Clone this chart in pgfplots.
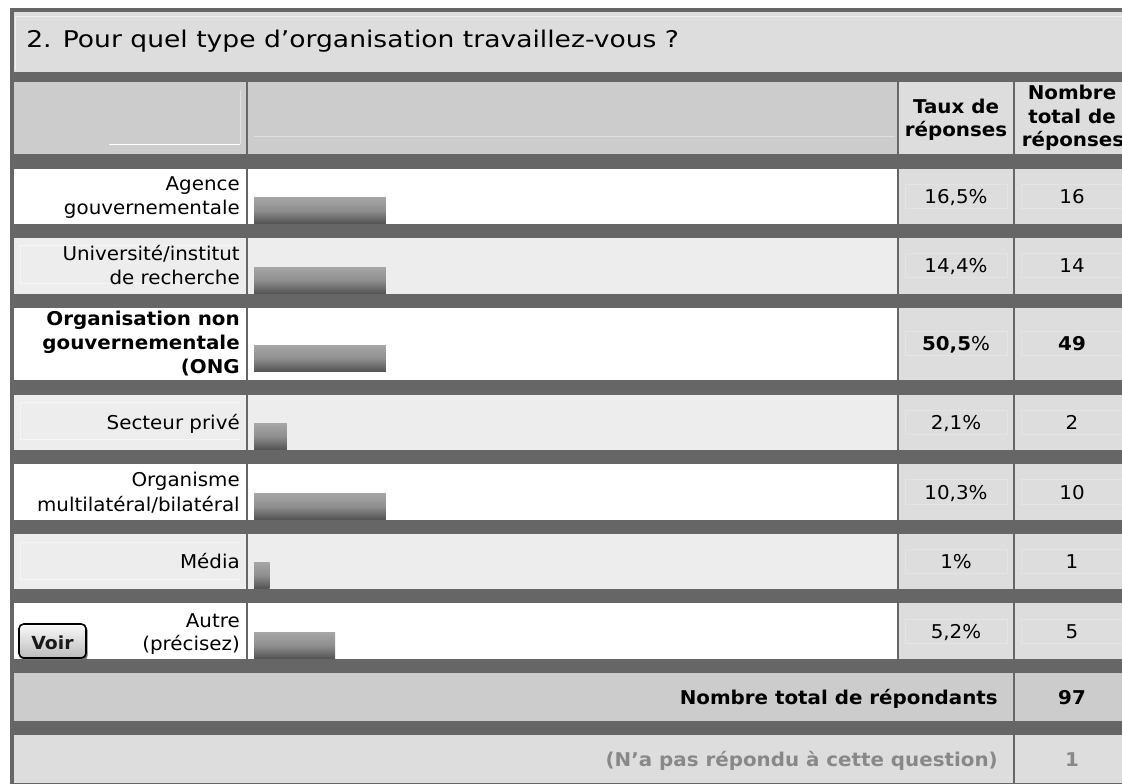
\documentclass[border=0pt]{standalone}
\usepackage{fontspec}
\setmainfont{DejaVu Sans}[FakeStretch=1.045]
\newfontfamily\titlefont{DejaVu Sans}[FakeStretch=1.155]
\usepackage{pgfplots}
\pgfplotsset{compat=1.18}
\definecolor{dk}{HTML}{666666}
\definecolor{hd}{HTML}{CCCCCC}
\definecolor{cl}{HTML}{DDDDDD}
\definecolor{ev}{HTML}{EDEDED}
\definecolor{barT}{HTML}{A6A6A6}
\definecolor{barM}{HTML}{8E8E8E}
\definecolor{barB}{HTML}{525252}
\definecolor{gr}{HTML}{888888}
\definecolor{faint}{HTML}{E4E4E4}

\begin{document}
\begin{tikzpicture}[x=0.75pt,y=-0.75pt,
  every node/.style={inner sep=0pt, font=\fontsize{14.25}{18}\selectfont}]
\useasboundingbox (0,0) rectangle (1122,784);
% canvas and frame
\fill[white] (0,0) rectangle (1122,784);
\fill[dk] (10,8) rectangle (1122,784);
% title band
\fill[cl] (14,12) rectangle (1122,72);
\draw[white!60!cl, line width=0.75pt] (15.5,70) -- (15.5,16.5) -- (1122,16.5);
% header row
\fill[hd] (14,82) rectangle (246,154);
\fill[hd] (248,82) rectangle (897,154);
\fill[cl] (899,82) rectangle (1013,154);
\fill[cl] (1015,82) rectangle (1122,154);
\draw[white, line width=1.4pt] (109,144.5) -- (240,144.5);
\draw[white!40!hd, line width=0.75pt] (240.5,90) -- (240.5,144);
\draw[white!40!hd, line width=0.75pt] (254,136.5) -- (895,136.5);
% data rows
\foreach \t/\b/\c in {169/224/white, 238/294/ev, 308/380/white, 395/450/ev, 464/520/white, 534/589/ev, 603/659/white}{
  \fill[\c] (14,\t) rectangle (246,\b);
  \fill[\c] (248,\t) rectangle (897,\b);
  \fill[cl] (899,\t) rectangle (1013,\b);
  \fill[cl] (1015,\t) rectangle (1122,\b);
  \draw[faint, line width=0.75pt] (905,{(\t+\b)/2-12}) rectangle (1007,{(\t+\b)/2+12});
  \draw[faint, line width=0.75pt] (1122,{(\t+\b)/2-12}) -- (1021,{(\t+\b)/2-12}) -- (1021,{(\t+\b)/2+12}) -- (1122,{(\t+\b)/2+12});
}
\foreach \t/\b in {238/294, 395/450, 534/589}{
  \draw[white!45!ev, line width=0.75pt] (20,{\b-10}) -- (20,{\t+8}) -- (240,{\t+8});
  \draw[white!45!ev, line width=0.75pt] (20,{\b-10}) -- (240,{\b-10});
}
% totals rows
\fill[hd] (14,673) rectangle (1013,721);
\fill[hd] (1015,673) rectangle (1122,721);
\fill[cl] (14,735) rectangle (1013,783);
\fill[cl] (1015,735) rectangle (1122,783);

% bars: x in % (bar drawn from 0 %, at pixel 254; 15.6 px per %), y = bar centre in px from top
\begin{axis}[at={(0,784)}, anchor=south west, scale only axis,
  width=841.5pt, height=588pt,
  xmin=-16.282, xmax=55.641, ymin=0, ymax=784, y dir=reverse,
  hide axis, clip=false,
  restrict x to domain*=0:8.46,
  mybar/.style={xbar, bar shift=0pt, bar width=19.9pt, draw=none,
    top color=barT, bottom color=barB, middle color=barM}]
\addplot[mybar] coordinates {(16.5,210.5)};  % Agence gouvernementale
\addplot[mybar] coordinates {(14.4,280.5)};  % Universite/institut de recherche
\addplot[mybar] coordinates {(50.5,358.5)};  % ONG
\addplot[mybar] coordinates {(2.1,436.5)};   % Secteur prive
\addplot[mybar] coordinates {(10.3,506.5)};  % Organisme multilateral/bilateral
\addplot[mybar] coordinates {(1.0,575.5)};   % Media
\addplot[mybar] coordinates {(5.2,645.5)};   % Autre
\end{axis}

% title
\node[anchor=base west, font=\titlefont\fontsize{17.25}{20}\selectfont] at (26,48)
  {2. Pour quel type d’organisation travaillez-vous ?};
% header
\node[anchor=base, font=\bfseries\fontsize{14.25}{18}\selectfont] at (956,114) {Taux de};
\node[anchor=base, font=\bfseries\fontsize{14.25}{18}\selectfont] at (956,137) {réponses};
\node[anchor=base, font=\bfseries\fontsize{14.25}{18}\selectfont] at (1072,100) {Nombre};
\node[anchor=base, font=\bfseries\fontsize{14.25}{18}\selectfont] at (1072,124) {total de};
\node[anchor=base, font=\bfseries\fontsize{14.25}{18}\selectfont] at (1073,147) {réponses};
% labels
\node[anchor=base east] at (240,191) {Agence};
\node[anchor=base east] at (240,215) {gouvernementale};
\node[anchor=base east] at (240,261) {Université/institut};
\node[anchor=base east] at (240,285) {de recherche};
\node[anchor=base east, font=\bfseries\fontsize{14.25}{18}\selectfont] at (240,326) {Organisation non};
\node[anchor=base east, font=\bfseries\fontsize{14.25}{18}\selectfont] at (240,350) {gouvernementale};
\node[anchor=base east, font=\bfseries\fontsize{14.25}{18}\selectfont] at (240,374) {(ONG};
\node[anchor=base east] at (240,429.5) {Secteur privé};
\node[anchor=base east] at (240,487) {Organisme};
\node[anchor=base east] at (240,511) {multilatéral/bilatéral};
\node[anchor=base east] at (240,568.5) {Média};
\node[anchor=base east] at (240,627) {Autre};
\node[anchor=base east] at (240,650) {(précisez)};
% Voir button
\fill[black!55, rounded corners=3pt] (20.5,626) rectangle (87.5,660);
\draw[black, line width=1.2pt, rounded corners=3.5pt, top color=white!90!hd, bottom color=hd!92!black] (19,624) rectangle (86,658);
\node[anchor=base, font=\bfseries\fontsize{13.5}{16}\selectfont, text=black!90] at (52.5,649) {Voir};
% values
\foreach \y/\p/\n in {203.5/16{,}5\%/16, 273/14{,}4\%/14, 429.5/2{,}1\%/2, 499/10{,}3\%/10, 568.5/1\%/1, 638/5{,}2\%/5}{
  \node[anchor=base] at (956,\y) {\p};
  \node[anchor=base] at (1072,\y) {\n};
}
\node[anchor=base] at (956,351) {\textbf{50,5}\%};
\node[anchor=base, font=\bfseries\fontsize{14.25}{18}\selectfont] at (1072,351) {49};
% totals
\node[anchor=base east, font=\bfseries\fontsize{14.25}{18}\selectfont] at (998,704) {Nombre total de répondants};
\node[anchor=base, font=\bfseries\fontsize{14.25}{18}\selectfont] at (1072,704) {97};
\node[anchor=base east, font=\bfseries\fontsize{14.25}{18}\selectfont, text=gr] at (998,766) {(N’a pas répondu à cette question)};
\node[anchor=base, font=\bfseries\fontsize{14.25}{18}\selectfont, text=gr] at (1072,766) {1};
\end{tikzpicture}
\end{document}
